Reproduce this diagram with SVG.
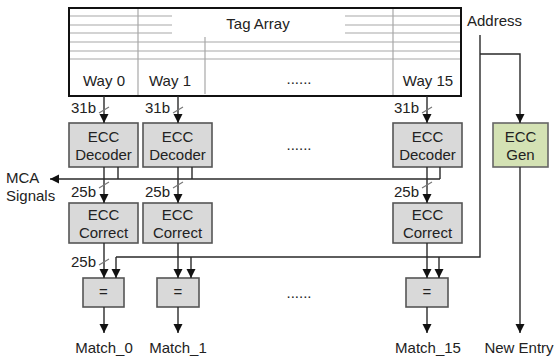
<svg xmlns="http://www.w3.org/2000/svg" width="554" height="360" viewBox="0 0 554 360">
  <style>
    text { font-family: "Liberation Sans", Arial, sans-serif; font-size: 15px; fill: #222; }
    .c { text-anchor: middle; }
    .r { text-anchor: end; }
    .box { fill: #d9d9d9; stroke: #555; stroke-width: 1.6; }
    .gen { fill: #d4e2b4; stroke: #666; stroke-width: 1.6; }
    .grid { stroke: #a8a8a8; stroke-width: 1.2; fill: none; }
    .wire { stroke: #2a2a2a; stroke-width: 1.4; fill: none; }
    .arr { stroke: #2a2a2a; stroke-width: 1.4; fill: none; marker-end: url(#ah); }
    .slash { stroke: #777; stroke-width: 1.2; }
  </style>
  <defs>
    <marker id="ah" markerUnits="userSpaceOnUse" markerWidth="10" markerHeight="10" refX="9" refY="5" orient="auto">
      <path d="M0,0.5 L9,5 L0,9.5 z" fill="#111"/>
    </marker>
  </defs>

  <!-- tag array -->
  <g id="tag-array">
    <path class="grid" d="M69,16 H172 M69,25 H172 M69,33 H172 M345,16 H461 M345,25 H461 M345,33 H461 M69,42 H461 M69,51 H461 M69,59 H461"/>
    <path class="grid" d="M138,8 V96 M205,37 V94 M393,8 V96"/>
    <rect x="69" y="8" width="392" height="88" fill="none" stroke="#111" stroke-width="2"/>
    <text class="c" x="258" y="29">Tag Array</text>
    <text class="c" x="104" y="86">Way 0</text>
    <text class="c" x="170" y="86">Way 1</text>
    <text class="c" x="299" y="84">......</text>
    <text class="c" x="428" y="86">Way 15</text>
  </g>

  <text x="467" y="26">Address</text>

  <!-- ECC decoders -->
  <g id="dec0"><rect class="box" x="69" y="123" width="69" height="44"/><text class="c" x="103.5" y="142">ECC</text><text class="c" x="103.5" y="160">Decoder</text></g>
  <g id="dec1"><rect class="box" x="143" y="123" width="69" height="44"/><text class="c" x="177.5" y="142">ECC</text><text class="c" x="177.5" y="160">Decoder</text></g>
  <g id="dec15"><rect class="box" x="393" y="123" width="69" height="44"/><text class="c" x="427.5" y="142">ECC</text><text class="c" x="427.5" y="160">Decoder</text></g>
  <text class="c" x="299" y="150">......</text>

  <!-- ECC generator -->
  <g id="ecc-gen"><rect class="gen" x="493" y="123" width="55" height="44"/><text class="c" x="520.5" y="142">ECC</text><text class="c" x="520.5" y="160">Gen</text></g>

  <!-- ECC correct -->
  <g id="cor0"><rect class="box" x="69" y="203" width="69" height="40"/><text class="c" x="103.5" y="220">ECC</text><text class="c" x="103.5" y="238">Correct</text></g>
  <g id="cor1"><rect class="box" x="143" y="203" width="69" height="40"/><text class="c" x="177.5" y="220">ECC</text><text class="c" x="177.5" y="238">Correct</text></g>
  <g id="cor15"><rect class="box" x="393" y="203" width="69" height="40"/><text class="c" x="427.5" y="220">ECC</text><text class="c" x="427.5" y="238">Correct</text></g>

  <!-- comparators -->
  <g id="cmp0"><rect class="box" x="83" y="278" width="41" height="29"/><text class="c" x="103.5" y="297">=</text></g>
  <g id="cmp1"><rect class="box" x="157" y="278" width="42" height="29"/><text class="c" x="178" y="297">=</text></g>
  <g id="cmp15"><rect class="box" x="406" y="278" width="42" height="29"/><text class="c" x="427" y="297">=</text></g>
  <text class="c" x="299" y="298">......</text>

  <!-- connectors -->
  <g id="connectors">
    <!-- tag array to decoders -->
    <path class="arr" d="M104,96 V123"/>
    <path class="arr" d="M178,96 V123"/>
    <path class="arr" d="M427,96 V123"/>
    <!-- decoders to correct -->
    <path class="arr" d="M104,167 V203"/>
    <path class="arr" d="M178,167 V203"/>
    <path class="arr" d="M427,167 V203"/>
    <!-- MCA signals bus -->
    <path class="wire" d="M118,167 V179 M192,167 V179 M440,167 V179"/>
    <path class="arr" d="M440,179 H50"/>
    <!-- correct to comparators -->
    <path class="arr" d="M104,243 V278"/>
    <path class="arr" d="M178,243 V278"/>
    <path class="arr" d="M427,243 V278"/>
    <!-- address path -->
    <path class="wire" d="M480,35 V257 H116"/>
    <path class="arr" d="M116,257 V278"/>
    <path class="arr" d="M191,257 V278"/>
    <path class="arr" d="M439,257 V278"/>
    <path class="arr" d="M480,54 H520 V123"/>
    <!-- outputs -->
    <path class="arr" d="M104,307 V333"/>
    <path class="arr" d="M178,307 V333"/>
    <path class="arr" d="M427,307 V333"/>
    <path class="arr" d="M520,167 V333"/>
    <!-- bus width marks -->
    <path class="slash" d="M99,113 L109,107 M173,113 L183,107 M422,113 L432,107 M99,188 L109,182 M173,188 L183,182 M422,188 L432,182 M99,265 L109,259"/>
  </g>

  <!-- labels -->
  <text class="r" x="96" y="113">31b</text>
  <text class="r" x="170" y="113">31b</text>
  <text class="r" x="419" y="113">31b</text>
  <text class="r" x="96" y="197">25b</text>
  <text class="r" x="170" y="197">25b</text>
  <text class="r" x="419" y="197">25b</text>
  <text class="r" x="96" y="267">25b</text>
  <text x="6" y="183">MCA</text>
  <text x="6" y="201">Signals</text>
  <text class="c" x="104" y="353">Match_0</text>
  <text class="c" x="178" y="353">Match_1</text>
  <text class="c" x="428" y="353">Match_15</text>
  <text class="c" x="519" y="353">New Entry</text>
</svg>
